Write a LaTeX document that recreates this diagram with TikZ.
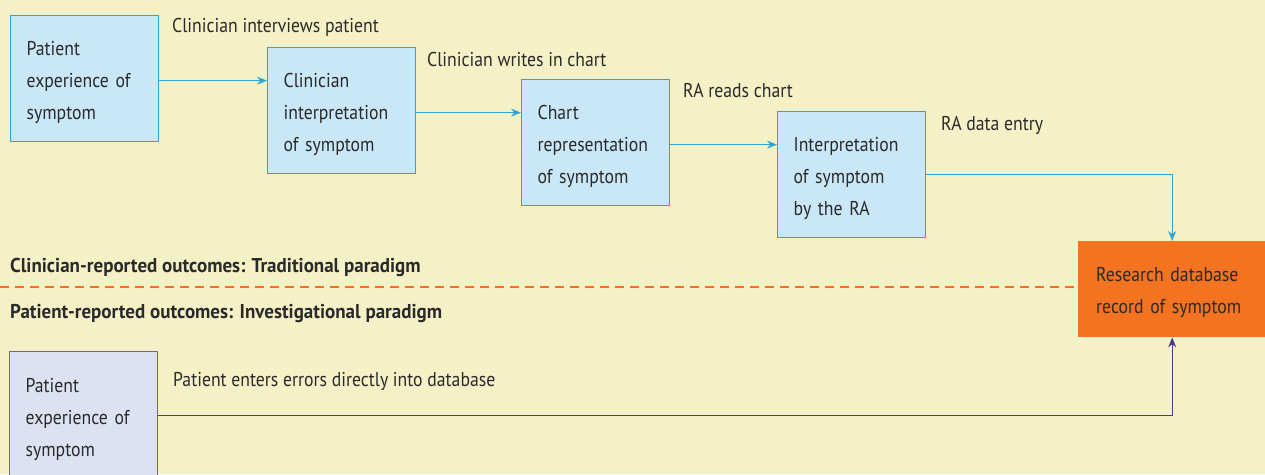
\documentclass[tikz,border=0pt]{standalone}
\usepackage{fontspec}
\setmainfont{PT Sans}[FakeStretch=0.885]
\newfontfamily\parafont{PT Sans}[FakeStretch=0.95]
\usetikzlibrary{arrows.meta}
\definecolor{bgc}{HTML}{F5F1C7}
\definecolor{bluefill}{HTML}{C9E7F7}
\definecolor{blueline}{HTML}{2DA5DB}
\definecolor{purplefill}{HTML}{DCE2F2}
\definecolor{purpleline}{HTML}{7D5BA6}
\definecolor{purplearrow}{HTML}{4A3A8E}
\definecolor{orangec}{HTML}{F37321}
\definecolor{txt}{HTML}{2A2A2A}
\tikzset{
  boxtext/.style={font=\fontsize{20}{32}\selectfont, text=txt, align=left,
    execute at begin node={\rule{0pt}{21pt}}},
  bluebox/.style={boxtext, draw=blueline, fill=bluefill, line width=1.3pt, anchor=north west,
    minimum width=148pt, minimum height=126pt, text width=116pt, inner xsep=16pt, inner ysep=0pt},
  purplebox/.style={bluebox, draw=purpleline, fill=purplefill, minimum height=128pt},
  dbbox/.style={boxtext, fill=orangec, anchor=north west, minimum width=200pt, minimum height=96pt,
    text width=164pt, inner xsep=18pt, inner ysep=0pt},
  steplabel/.style={font=\fontsize{20}{22}\selectfont, text=txt, anchor=west, inner sep=0pt},
  paradigm/.style={font=\parafont\fontsize{20}{22}\selectfont\bfseries, text=txt, anchor=west, inner sep=0pt},
  bluearrow/.style={draw=blueline, line width=1.2pt, -{Stealth[length=10pt,width=8pt]}},
  purplearr/.style={draw=purplearrow, line width=1.2pt, -{Stealth[length=10pt,width=8pt]}},
}
\begin{document}
\begin{tikzpicture}[x=1pt,y=-1pt]
\fill[bgc] (0,0) rectangle (1265,474);
\useasboundingbox (0,0) rectangle (1265,474);

\node[bluebox] (b1) at (10,15) {Patient\\experience of\\symptom};
\node[bluebox] (b2) at (267,47) {Clinician\\interpretation\\of symptom};
\node[bluebox] (b3) at (521,79) {Chart\\representation\\of symptom};
\node[bluebox] (b4) at (777,111) {Interpretation\\of symptom\\by the RA};
\node[dbbox] (db) at (1078,241) {Research database\\record of symptom};
\node[purplebox] (b5) at (9,351) {Patient\\experience of\\symptom};

\node[steplabel] (l1) at (172,27) {Clinician interviews patient};
\node[steplabel] (l2) at (427,59) {Clinician writes in chart};
\node[steplabel] (l3) at (683,91) {RA reads chart};
\node[steplabel] (l4) at (941,125) {RA data entry};
\node[steplabel] (l5) at (173,381) {Patient enters errors directly into database};

\node[paradigm] (p1) at (10,267) {Clinician-reported outcomes: Traditional paradigm};
\node[paradigm] (p2) at (10,314) {Patient-reported outcomes: Investigational paradigm};

\coordinate (dl) at (0,287);
\draw[orangec, line width=2pt, dash pattern=on 9pt off 6pt] (dl) -- (db.west |- dl);

\draw[bluearrow] ([yshift=-2pt]b1.east) -- ([yshift=-2pt]b2.west |- b1.east);
\draw[bluearrow] ([yshift=-2pt]b2.east) -- ([yshift=-2pt]b3.west |- b2.east);
\draw[bluearrow] ([yshift=-2pt]b3.east) -- ([yshift=-2pt]b4.west |- b3.east);
\draw[bluearrow] (b4.east) -| ([xshift=-6pt]db.north);
\draw[purplearr] (b5.east) -| ([xshift=-6pt]db.south);
\end{tikzpicture}
\end{document}
